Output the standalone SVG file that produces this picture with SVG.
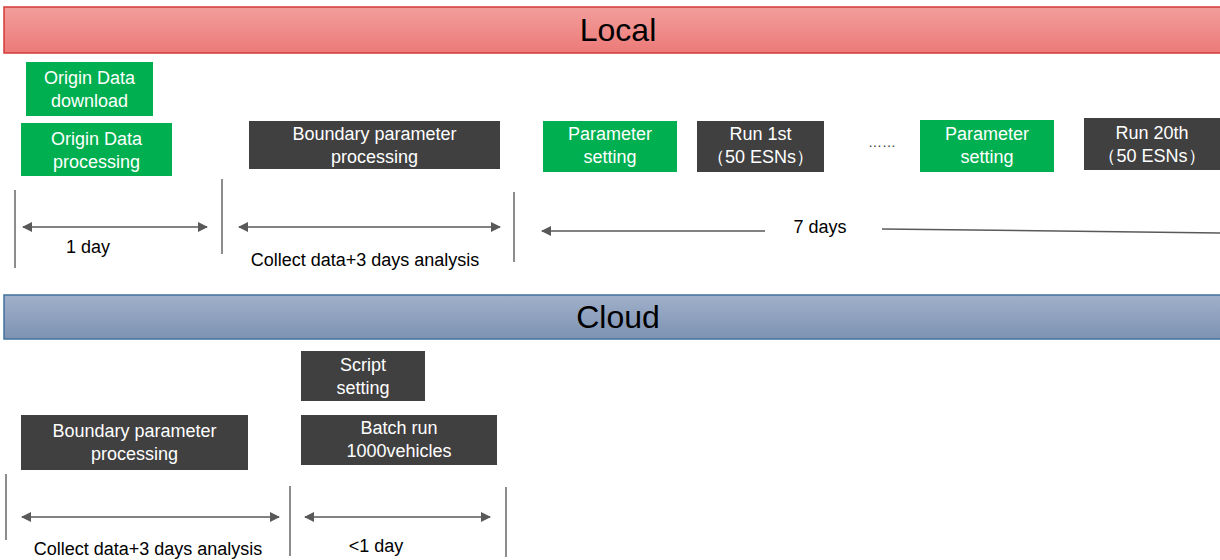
<svg xmlns="http://www.w3.org/2000/svg" width="1220" height="560" viewBox="0 0 1220 560">
<defs>
<linearGradient id="gRed" x1="0" y1="0" x2="0" y2="1"><stop offset="0" stop-color="#f29e9b"/><stop offset="1" stop-color="#ec7a78"/></linearGradient>
<linearGradient id="gBlue" x1="0" y1="0" x2="0" y2="1"><stop offset="0" stop-color="#a0b0ca"/><stop offset="1" stop-color="#7d92b2"/></linearGradient>
<marker id="ah" viewBox="0 0 10 10" refX="9" refY="5" markerWidth="10" markerHeight="10" markerUnits="userSpaceOnUse" orient="auto-start-reverse"><path d="M0,0 L10,5 L0,10 Z" fill="#595959"/></marker>
</defs>
<style>
.green{fill:#00b050}
.dark{fill:#404040}
.bt{font-family:"Liberation Sans",Arial,sans-serif;font-size:18px;fill:#ffffff;text-anchor:middle}
.lbl{font-family:"Liberation Sans",Arial,sans-serif;font-size:18px;fill:#000000;text-anchor:middle}
.ban{font-family:"Liberation Sans",Arial,sans-serif;font-size:32px;fill:#000000;text-anchor:middle}
.ln{stroke:#595959;stroke-width:1.5;fill:none}
.tick{stroke:#404040;stroke-width:1.2}
</style>
<g id="banner-local">
<rect x="4" y="7" width="1220" height="46" fill="url(#gRed)" stroke="#d13b3a" stroke-width="1.5"/>
<text class="ban" x="618" y="41">Local</text>
</g>
<g id="banner-cloud">
<rect x="4" y="295" width="1220" height="44" fill="url(#gBlue)" stroke="#41719c" stroke-width="1.5"/>
<text class="ban" x="618" y="328">Cloud</text>
</g>
<g id="n-download"><rect class="green" x="26" y="62" width="127" height="54"/><text class="bt" x="89.5" y="84">Origin Data</text><text class="bt" x="89.5" y="107">download</text></g>
<g id="n-processing"><rect class="green" x="21" y="123" width="151" height="53"/><text class="bt" x="96.5" y="145">Origin Data</text><text class="bt" x="96.5" y="168">processing</text></g>
<g id="n-boundary-local"><rect class="dark" x="249" y="121" width="251" height="48"/><text class="bt" x="374.5" y="140">Boundary parameter</text><text class="bt" x="374.5" y="163">processing</text></g>
<g id="n-param1"><rect class="green" x="543" y="121" width="134" height="51"/><text class="bt" x="610" y="140">Parameter</text><text class="bt" x="610" y="163">setting</text></g>
<g id="n-run1"><rect class="dark" x="697" y="121" width="127" height="51"/><text class="bt" x="760.5" y="140">Run 1st</text><text class="bt" x="760.5" y="163">（50 ESNs）</text></g>
<g id="n-dots"><text x="882" y="147" style="font-family:'Liberation Sans',Arial,sans-serif;font-size:14px;fill:#333333;text-anchor:middle">……</text></g>
<g id="n-param2"><rect class="green" x="920" y="120" width="134" height="52"/><text class="bt" x="987" y="140">Parameter</text><text class="bt" x="987" y="163">setting</text></g>
<g id="n-run20"><rect class="dark" x="1084" y="118" width="140" height="52"/><text class="bt" x="1152" y="139">Run 20th</text><text class="bt" x="1152" y="162">（50 ESNs）</text></g>
<g id="n-script"><rect class="dark" x="301" y="351" width="124" height="50"/><text class="bt" x="363" y="371">Script</text><text class="bt" x="363" y="394">setting</text></g>
<g id="n-boundary-cloud"><rect class="dark" x="21" y="415" width="227" height="55"/><text class="bt" x="134.5" y="437">Boundary parameter</text><text class="bt" x="134.5" y="460">processing</text></g>
<g id="n-batch"><rect class="dark" x="301" y="415" width="196" height="50"/><text class="bt" x="399" y="434">Batch run</text><text class="bt" x="399" y="457">1000vehicles</text></g>
<g id="connectors">
<line class="tick" x1="15" y1="190" x2="15" y2="268"/>
<line class="tick" x1="222" y1="179" x2="222" y2="254"/>
<line class="tick" x1="514" y1="192" x2="514" y2="262"/>
<line class="ln" x1="23" y1="227" x2="207" y2="227" marker-start="url(#ah)" marker-end="url(#ah)"/>
<line class="ln" x1="239" y1="227" x2="500" y2="227" marker-start="url(#ah)" marker-end="url(#ah)"/>
<line class="ln" x1="765" y1="231" x2="542" y2="231" marker-end="url(#ah)"/>
<line class="ln" x1="882" y1="229" x2="1220" y2="233"/>
<line class="tick" x1="6" y1="474" x2="6" y2="540"/>
<line class="tick" x1="290" y1="486" x2="290" y2="556"/>
<line class="tick" x1="506" y1="487" x2="506" y2="557"/>
<line class="ln" x1="22" y1="517" x2="279" y2="517" marker-start="url(#ah)" marker-end="url(#ah)"/>
<line class="ln" x1="305" y1="517" x2="490" y2="517" marker-start="url(#ah)" marker-end="url(#ah)"/>
</g>
<g id="labels">
<text class="lbl" x="88" y="253">1 day</text>
<text class="lbl" x="365" y="266">Collect data+3 days analysis</text>
<text class="lbl" x="820" y="233">7 days</text>
<text class="lbl" x="148" y="555">Collect data+3 days analysis</text>
<text class="lbl" x="376" y="552">&lt;1 day</text>
</g>
</svg>
